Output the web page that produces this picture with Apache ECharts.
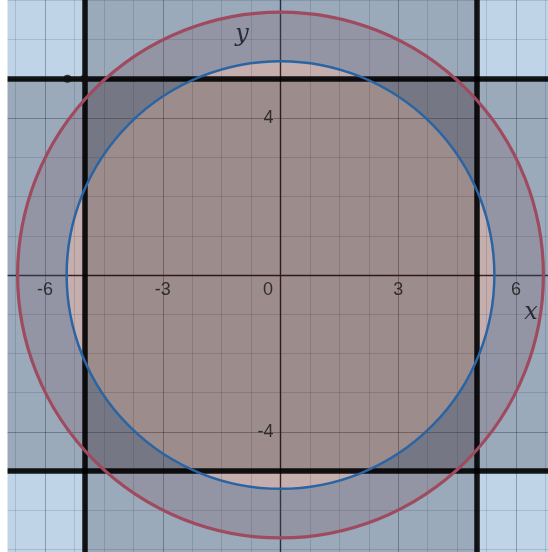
<!DOCTYPE html>
<html lang="en">
<head>
	<meta charset="UTF-8">
	<title>圆与方形区域</title>
	<script src="https://cdn.jsdelivr.net/npm/echarts@6/dist/echarts.min.js"></script>
	<style>
		html, body { margin: 0; padding: 0; background: #fff; }
	</style>
</head>
<body>
	<div id="chart" style="width: 548px;height: 552px;"></div>

	<script type="text/javascript">
		// 数据
		var xRange = [-9, 9];          // x轴范围（画布外部分被裁掉）
		var yRange = [-8, 8];
		var xTickStep = 3;             // x轴主刻度
		var yTickStep = 4;             // y轴主刻度
		var xLabelVals = [-6, -3, 0, 3, 6];
		var yLabelVals = [4, -4];
		var boundX = [-5, 5];          // 竖直粗线 x = ±5
		var boundY = [-5, 5];          // 水平粗线 y = ±5
		var redCircle = [0, 0, 6.7];   // 圆心x, 圆心y, 半径
		var blueCircle = [0, 0, 5.45];
		var dots = [[-5.43, 5], [-5, 5]];

		var myChart = echarts.init(document.getElementById('chart'));

		// 蓝色：圆外部分
		function outsideCircle(params, api) {
			var p0 = api.coord([xRange[0], yRange[1]]);
			var p1 = api.coord([xRange[1], yRange[0]]);
			var c = api.coord([blueCircle[0], blueCircle[1]]);
			var r = api.size([blueCircle[2], 0])[0];
			var d = 'M' + p0[0] + ' ' + p0[1] + ' L' + p1[0] + ' ' + p0[1] +
				' L' + p1[0] + ' ' + p1[1] + ' L' + p0[0] + ' ' + p1[1] + ' Z' +
				' M' + (c[0] + r) + ' ' + c[1] +
				' A' + r + ' ' + r + ' 0 1 0 ' + (c[0] - r) + ' ' + c[1] +
				' A' + r + ' ' + r + ' 0 1 0 ' + (c[0] + r) + ' ' + c[1] + ' Z';
			return {
				type: 'path',
				shape: { pathData: d },
				style: { fill: 'rgba(45,112,179,0.3)' }
			};
		}

		// |x|<5 与 |y|<5 两条带
		function strips(params, api) {
			var a = api.coord([boundX[0], yRange[1]]);
			var b = api.coord([boundX[1], yRange[0]]);
			var c = api.coord([xRange[0], boundY[1]]);
			var d = api.coord([xRange[1], boundY[0]]);
			var fill = 'rgba(0,0,0,0.2)';
			return {
				type: 'group',
				children: [
					{ type: 'rect', shape: { x: a[0], y: a[1], width: b[0] - a[0], height: b[1] - a[1] }, style: { fill: fill } },
					{ type: 'rect', shape: { x: c[0], y: c[1], width: d[0] - c[0], height: d[1] - c[1] }, style: { fill: fill } }
				]
			};
		}

		function circleItem(circle, fill, stroke, width) {
			return function (params, api) {
				var c = api.coord([circle[0], circle[1]]);
				var r = api.size([circle[2], 0])[0];
				return {
					type: 'circle',
					shape: { cx: c[0], cy: c[1], r: r },
					style: { fill: fill, stroke: stroke, lineWidth: width }
				};
			};
		}

		var labelFont = '"Liberation Sans", Arial, sans-serif';
		var gridStyle = {
			splitLine: { show: true, lineStyle: { color: 'rgba(0,0,0,0.32)', width: 1 } },
			minorTick: { show: false, splitNumber: 4 },
			minorSplitLine: { show: true, lineStyle: { color: 'rgba(0,0,0,0.14)', width: 1 } }
		};

		myChart.setOption({
			animation: false,
			grid: {
				left: -72.66,
				right: -85.66,
				top: -38.92,
				bottom: -36.92,
				containLabel: false,
				outerBoundsMode: 'none'
			},
			xAxis: Object.assign({
				type: 'value',
				min: xRange[0],
				max: xRange[1],
				interval: xTickStep,
				axisLine: { onZero: true, lineStyle: { color: '#2b2326', width: 1.4 } },
				axisTick: { show: false },
				axisLabel: { show: false }
			}, gridStyle),
			yAxis: Object.assign({
				type: 'value',
				min: yRange[0],
				max: yRange[1],
				interval: yTickStep,
				axisLine: { onZero: true, lineStyle: { color: '#2b2326', width: 1.4 } },
				axisTick: { show: false },
				axisLabel: { show: false }
			}, gridStyle),
			series: [
				{ type: 'custom', silent: true, z: 2, data: [0], renderItem: circleItem(redCircle, 'rgba(199,68,64,0.2)', 'none', 0) },
				{ type: 'custom', silent: true, z: 3, data: [0], renderItem: outsideCircle },
				{ type: 'custom', silent: true, z: 4, data: [0], renderItem: strips },
				{ type: 'custom', silent: true, z: 5, data: [0], renderItem: circleItem(redCircle, 'none', '#9f4b5f', 3.2) },
				{ type: 'custom', silent: true, z: 6, data: [0], renderItem: circleItem(blueCircle, 'none', '#2a64a3', 2.5) },
				{
					type: 'scatter',
					z: 7,
					symbolSize: 8,
					itemStyle: { color: '#111' },
					data: dots,
					markLine: {
						silent: true,
						symbol: 'none',
						label: { show: false },
						lineStyle: { color: 'rgba(0,0,0,0.9)', width: 5.5, type: 'solid' },
						data: [
							{ xAxis: boundX[0] }, { xAxis: boundX[1] },
							{ yAxis: boundY[0] }, { yAxis: boundY[1] }
						]
					}
				},
				{
					// x轴刻度文字
					type: 'scatter',
					z: 8,
					silent: true,
					symbolSize: 0,
					itemStyle: { color: 'rgba(0,0,0,0)' },
					label: {
						show: true,
						position: 'bottom',
						distance: 6,
						color: '#141414',
						fontSize: 18,
						fontFamily: labelFont,
						formatter: function (p) { return String(p.value[0]); }
					},
					data: xLabelVals.map(function (v) {
						return v === 0 ? { value: [v, 0], label: { offset: [-12.5, 0] } } : [v, 0];
					})
				},
				{
					// y轴刻度文字
					type: 'scatter',
					z: 8,
					silent: true,
					symbolSize: 0,
					itemStyle: { color: 'rgba(0,0,0,0)' },
					label: {
						show: true,
						position: 'left',
						distance: 7,
						color: '#141414',
						fontSize: 18,
						fontFamily: labelFont,
						formatter: function (p) { return String(p.value[1]); }
					},
					data: yLabelVals.map(function (v) { return [0, v]; })
				}
			],
			graphic: [
				{ type: 'rect', z: 100, shape: { x: 0, y: 0, width: 7.5, height: 552 }, style: { fill: '#fff' } },
				{ type: 'text', z: 100, x: 242, y: 35, style: { text: 'y', font: 'italic 24px "DejaVu Serif", "Liberation Serif", serif', fill: '#2b2b38', align: 'center', verticalAlign: 'middle' } },
				{ type: 'text', z: 100, x: 531, y: 313, style: { text: 'x', font: 'italic 24px "DejaVu Serif", "Liberation Serif", serif', fill: '#2b2b38', align: 'center', verticalAlign: 'middle' } }
			]
		});
	</script>
</body>
</html>
